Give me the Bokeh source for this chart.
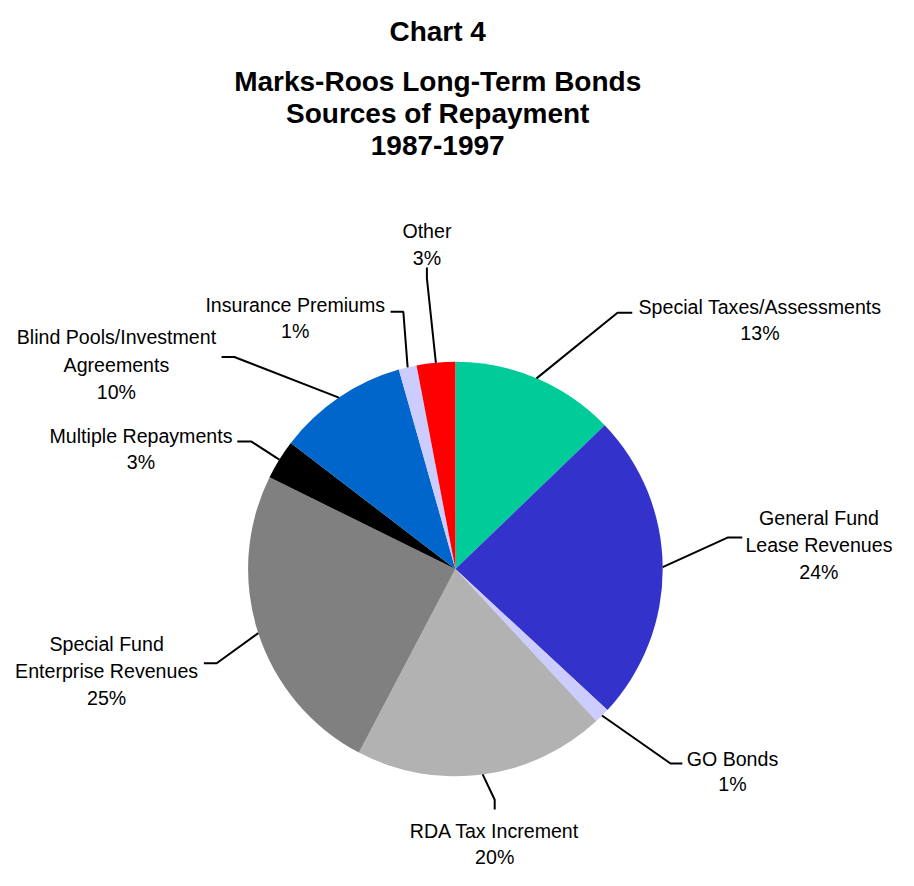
import math
from bokeh.plotting import figure
from bokeh.models import Range1d, ColumnDataSource
from bokeh.core.properties import value
from bokeh.embed import file_html
from bokeh.resources import INLINE

# ---- data ----
categories = ["Special Taxes/Assessments", "General Fund Lease Revenues", "GO Bonds",
              "RDA Tax Increment", "Special Fund Enterprise Revenues", "Multiple Repayments",
              "Blind Pools/Investment Agreements", "Insurance Premiums", "Other"]
shares = [12.8, 24.1, 1.2, 19.6, 24.6, 3.1, 10.2, 1.4, 3.0]
label_lines = [["Special Taxes/Assessments"], ["General Fund", "Lease Revenues"], ["GO Bonds"],
               ["RDA Tax Increment"], ["Special Fund", "Enterprise Revenues"], ["Multiple Repayments"],
               ["Blind Pools/Investment", "Agreements"], ["Insurance Premiums"], ["Other"]]
colors = ["#00CC99", "#3333CC", "#CCCCFF", "#B2B2B2", "#808080", "#000000", "#0066CC", "#CCCCFF", "#FF0000"]
title_lines = ["Chart 4", "Marks-Roos Long-Term Bonds", "Sources of Repayment", "1987-1997"]

# ---- layout: data space is the 914x886 reference canvas, drawn into a 898x870 figure ----
RW, RH = 914, 886
W, H = 898, 870
SC = W / RW
def X(px): return px
def Y(py): return RH - py

CX, CY, R = 463, 579, 211
# label centre x, first baseline y, line spacing
label_pos = [(773, 312, 27), (833, 527, 27.5), (745, 772, 26), (503, 846, 26), (108, 655, 27.5),
             (143, 443, 27), (118, 343, 28), (300, 310, 27), (434, 235, 27)]
# elbow and end points of leader lines
leader_pts = [[(628, 318), (643, 318)], [(740, 547), (755, 547)], [(682, 777), (694, 777)],
              [(503, 814), (503, 824)], [(220, 675), (207, 675)], [(255, 449), (241, 449)],
              [(238, 363), (225, 363)], [(410, 317), (397, 317)], [(434, 283), (434, 272)]]
title_baselines = [32, 82, 115, 148]

p = figure(width=W, height=H, x_range=Range1d(0, RW), y_range=Range1d(0, RH),
           output_backend="svg", toolbar_location=None, min_border=0)
p.axis.visible = False
p.xgrid.visible = False
p.ygrid.visible = False
p.outline_line_color = None
p.background_fill_color = "white"
p.border_fill_color = "white"

total = sum(shares)
starts, ends, mids = [], [], []
cum = 0.0
for s in shares:
    a0 = math.pi / 2 - 2 * math.pi * cum / total
    cum += s
    a1 = math.pi / 2 - 2 * math.pi * cum / total
    starts.append(a0); ends.append(a1); mids.append((a0 + a1) / 2)

src = ColumnDataSource(dict(start=starts, end=ends, color=colors, cat=categories))
p.wedge(x=X(CX), y=Y(CY), radius=R, start_angle="start", end_angle="end",
        direction="clock", fill_color="color", line_color=None, source=src)

# leader lines
for m, pts in zip(mids, leader_pts):
    sx = X(CX) + R * math.cos(m)
    sy = Y(CY) + R * math.sin(m)
    xs = [sx] + [X(a) for a, b in pts]
    ys = [sy] + [Y(b) for a, b in pts]
    p.line(xs, ys, line_color="black", line_width=2)

# labels
tx, ty, tt = [], [], []
for lines, s, (lx, ly, dy) in zip(label_lines, shares, label_pos):
    all_lines = lines + [f"{round(s)}%"]
    for i, t in enumerate(all_lines):
        tx.append(X(lx)); ty.append(Y(ly + i * dy)); tt.append(t)
p.text(x=tx, y=ty, text=tt, text_font=value("Liberation Sans"), text_font_size=f"{20 * SC:.1f}px",
       text_align="center", text_baseline="alphabetic", text_color="black")

# title
p.text(x=[X(445)] * len(title_lines), y=[Y(b) for b in title_baselines], text=title_lines,
       text_font=value("Liberation Sans"), text_font_size=f"{28.5 * SC:.1f}px", text_font_style="bold",
       text_align="center", text_baseline="alphabetic", text_color="black")

open("out.html", "w").write(file_html(p, INLINE))
